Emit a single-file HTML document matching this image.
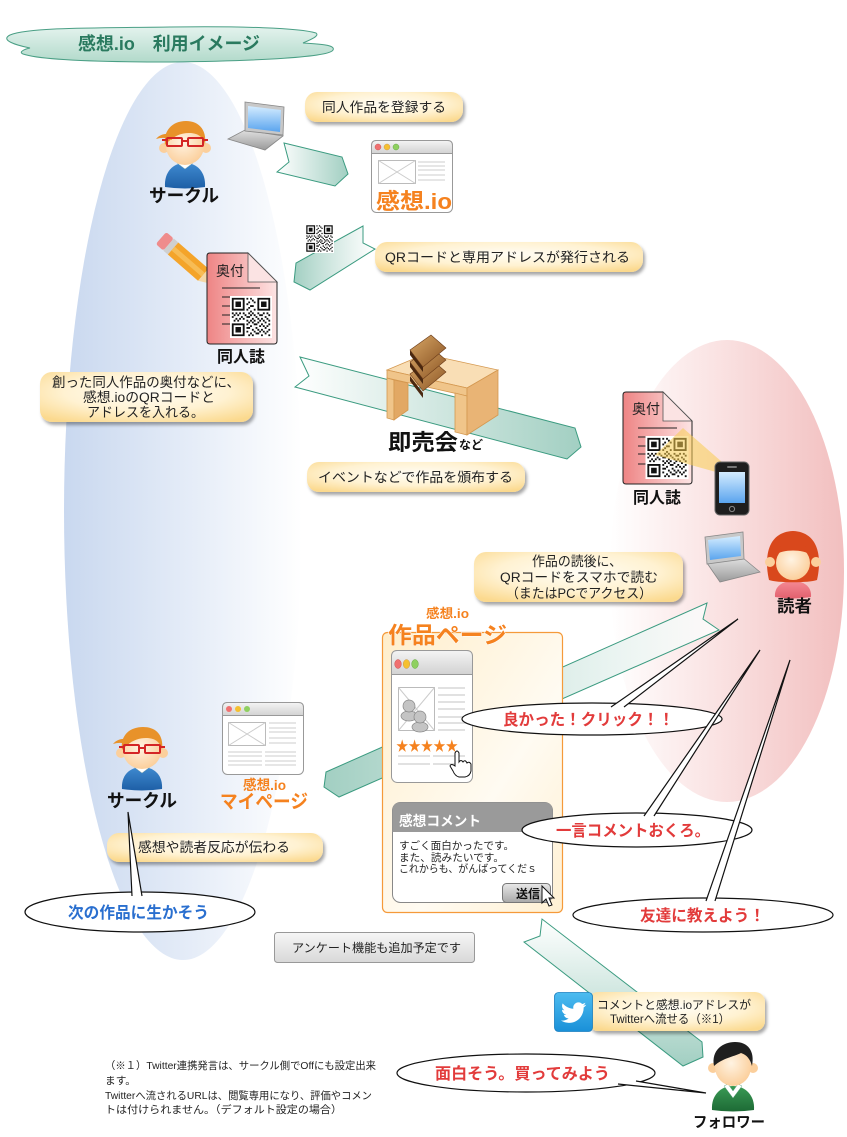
<!DOCTYPE html>
<html><head><meta charset="utf-8"><style>
html,body{margin:0;padding:0;background:#fff;}
svg{display:block;}
.s{font-family:"Liberation Sans","Noto Sans CJK JP",sans-serif;}
</style></head><body>
<svg width="847" height="1137" viewBox="0 0 847 1137" xmlns="http://www.w3.org/2000/svg" class="s">
<defs>
<linearGradient id="gBlue" x1="0" y1="0" x2="1" y2="0"><stop offset="0" stop-color="#c9d8ef"/><stop offset="0.55" stop-color="#e6edf8"/><stop offset="1" stop-color="#ffffff"/></linearGradient>
<linearGradient id="gPink" x1="0" y1="0" x2="1" y2="0"><stop offset="0" stop-color="#ffffff"/><stop offset="0.45" stop-color="#fae3e3"/><stop offset="1" stop-color="#f2bfbf"/></linearGradient>
<linearGradient id="gCloud" x1="0" y1="0" x2="0" y2="1"><stop offset="0" stop-color="#e4f3ee"/><stop offset="1" stop-color="#b2dacb"/></linearGradient>
<radialGradient id="gLab" cx="50%" cy="40%" r="70%"><stop offset="0" stop-color="#fffdf5"/><stop offset="0.55" stop-color="#fff2d2"/><stop offset="1" stop-color="#fbd98e"/></radialGradient>
<linearGradient id="gR" x1="0" y1="0" x2="1" y2="0"><stop offset="0" stop-color="#ffffff"/><stop offset="1" stop-color="#a2cfc2"/></linearGradient>
<linearGradient id="gL" x1="0" y1="0" x2="1" y2="0"><stop offset="0" stop-color="#a2cfc2"/><stop offset="1" stop-color="#ffffff" stop-opacity="0.8"/></linearGradient>
<linearGradient id="gD" x1="0" y1="0" x2="0" y2="1"><stop offset="0" stop-color="#ffffff"/><stop offset="1" stop-color="#a2cfc2"/></linearGradient>
<linearGradient id="gBar" x1="0" y1="0" x2="0" y2="1"><stop offset="0" stop-color="#f4f4f4"/><stop offset="1" stop-color="#d2d2d2"/></linearGradient>
<linearGradient id="gBtn" x1="0" y1="0" x2="0" y2="1"><stop offset="0" stop-color="#e8e8e8"/><stop offset="1" stop-color="#a8a8a8"/></linearGradient>
<linearGradient id="gGray" x1="0" y1="0" x2="0" y2="1"><stop offset="0" stop-color="#f6f6f6"/><stop offset="1" stop-color="#d8d8d8"/></linearGradient>
<linearGradient id="gScr" x1="0" y1="0" x2="0" y2="1"><stop offset="0" stop-color="#d4ecff"/><stop offset="1" stop-color="#5aa4ee"/></linearGradient>
<linearGradient id="gLap" x1="0" y1="0" x2="0" y2="1"><stop offset="0" stop-color="#e0e0e0"/><stop offset="1" stop-color="#9a9a9a"/></linearGradient>
<linearGradient id="gDoc" x1="0" y1="0" x2="1" y2="0"><stop offset="0" stop-color="#ee8484"/><stop offset="1" stop-color="#fde4e4"/></linearGradient>
<linearGradient id="gWork" x1="0" y1="0" x2="1" y2="1"><stop offset="0" stop-color="#ffeecb"/><stop offset="0.6" stop-color="#fffbf2"/><stop offset="1" stop-color="#fff0d2"/></linearGradient>
<linearGradient id="gBook" x1="0" y1="0" x2="1" y2="1"><stop offset="0" stop-color="#d9a867"/><stop offset="1" stop-color="#8a5424"/></linearGradient>
<linearGradient id="gTw" x1="0" y1="0" x2="0" y2="1"><stop offset="0" stop-color="#4dbcf0"/><stop offset="1" stop-color="#1a90d8"/></linearGradient>
<radialGradient id="gFace" cx="45%" cy="40%" r="60%"><stop offset="0" stop-color="#fff3e2"/><stop offset="1" stop-color="#fbcf9c"/></radialGradient>
<linearGradient id="gBlueShirt" x1="0" y1="0" x2="0" y2="1"><stop offset="0" stop-color="#3f8ad0"/><stop offset="1" stop-color="#1e5fa6"/></linearGradient>
<linearGradient id="gPinkShirt" x1="0" y1="0" x2="0" y2="1"><stop offset="0" stop-color="#f58a94"/><stop offset="1" stop-color="#e2606e"/></linearGradient>
<linearGradient id="gGreenShirt" x1="0" y1="0" x2="0" y2="1"><stop offset="0" stop-color="#3a9a55"/><stop offset="1" stop-color="#1d6a35"/></linearGradient>
<filter id="sh" x="-10%" y="-20%" width="130%" height="170%"><feDropShadow dx="2" dy="3" stdDeviation="1.5" flood-color="#000" flood-opacity="0.35"/></filter>
<symbol id="qr" viewBox="-1 -1 23 23"><rect x="-1" y="-1" width="23" height="23" fill="#fff"/><path fill-rule="evenodd" fill="#111" d="M0 0h7v7H0z M1 1v5h5V1z M2 2h3v3H2z M14 0h7v7h-7z M15 1v5h5V1z M16 2h3v3h-3z M0 14h7v7H0z M1 15v5h5v-5z M2 16h3v3H2z M8 0h1v1h-1z M10 0h1v1h-1z M11 1h1v1h-1z M9 2h1v1h-1z M12 2h1v1h-1z M8 3h1v1h-1z M10 4h2v1h-2z M9 5h1v1h-1z M8 6h1v1h-1z M12 6h1v1h-1z M10 7h1v1h-1z M0 8h1v1h-1z M2 8h1v1h-1z M4 8h1v1h-1z M6 8h1v1h-1z M9 8h1v1h-1z M11 8h1v1h-1z M14 8h1v1h-1z M17 8h1v1h-1z M19 8h1v1h-1z M1 9h1v1h-1z M3 9h1v1h-1z M7 9h1v1h-1z M10 9h1v1h-1z M12 9h1v1h-1z M15 9h2v1h-2z M20 9h1v1h-1z M0 10h1v1h-1z M5 10h1v1h-1z M8 10h2v1h-2z M13 10h1v1h-1z M18 10h1v1h-1z M2 11h1v1h-1z M4 11h1v1h-1z M6 11h1v1h-1z M11 11h1v1h-1z M14 11h1v1h-1z M16 11h1v1h-1z M19 11h1v1h-1z M1 12h1v1h-1z M3 12h1v1h-1z M8 12h1v1h-1z M10 12h1v1h-1z M12 12h1v1h-1z M15 12h1v1h-1z M17 12h1v1h-1z M20 12h1v1h-1z M9 13h1v1h-1z M11 13h1v1h-1z M14 13h1v1h-1z M18 13h1v1h-1z M8 14h1v1h-1z M12 14h2v1h-2z M16 14h1v1h-1z M20 14h1v1h-1z M10 15h1v1h-1z M15 15h1v1h-1z M17 15h1v1h-1z M19 15h1v1h-1z M8 16h2v1h-2z M13 16h1v1h-1z M18 16h1v1h-1z M11 17h1v1h-1z M14 17h1v1h-1z M16 17h1v1h-1z M20 17h1v1h-1z M8 18h1v1h-1z M12 18h1v1h-1z M15 18h1v1h-1z M17 18h1v1h-1z M19 18h1v1h-1z M10 19h1v1h-1z M13 19h2v1h-2z M18 19h1v1h-1z M9 20h1v1h-1z M11 20h1v1h-1z M16 20h1v1h-1z M20 20h1v1h-1z"/></symbol>
</defs>

<rect width="847" height="1137" fill="#fff"/>

<!-- background ellipses -->
<ellipse cx="183" cy="511" rx="119" ry="449" fill="url(#gBlue)"/>
<ellipse cx="727" cy="571" rx="117" ry="231" fill="url(#gPink)"/>

<!-- title cloud -->
<path d="M10,35 C30,27 100,28 170,27 C240,26 300,28 316,33 C320,36 310,40 303,43 C320,44 336,45 333,50 C330,57 260,61 170,62 C100,62 40,60 23,54 C18,52 25,49 30,48 C15,45 0,40 10,35 Z" fill="url(#gCloud)" stroke="#4a9f85" stroke-width="1"/>
<text x="78" y="50" font-size="18" font-weight="bold" fill="#2a7a5f" textLength="182" lengthAdjust="spacingAndGlyphs">感想.io　利用イメージ</text>

<!-- arrows -->
<polygon points="284,143 342,157 348,174 335,186 277,172 289,162" fill="url(#gR)" stroke="#3b9b80" stroke-width="1"/>
<polygon points="363,226 363,243 375,249 310,290 294,282 296,263" fill="url(#gL)" stroke="#3b9b80" stroke-width="1"/>
<polygon points="300,357 575,428 581,447 567,459 295,387 309,376" fill="url(#gR)" stroke="#3b9b80" stroke-width="1"/>
<polygon points="707,603 703,619 719,630 339,797 324,787 326,772" fill="url(#gL)" stroke="#3b9b80" stroke-width="1"/>
<polygon points="542,919 540,936 524,942 683,1066 703,1057 702,1042" fill="url(#gD)" stroke="#3b9b80" stroke-width="1"/>

<!-- labels -->
<g filter="url(#sh)">
<rect x="305" y="92" width="158" height="30" rx="12" fill="url(#gLab)"/>
<rect x="375" y="242" width="268" height="30" rx="12" fill="url(#gLab)"/>
<rect x="40" y="372" width="213" height="50" rx="12" fill="url(#gLab)"/>
<rect x="307" y="462" width="218" height="30" rx="12" fill="url(#gLab)"/>
<rect x="474" y="552" width="209" height="50" rx="12" fill="url(#gLab)"/>
<rect x="107" y="833" width="216" height="29" rx="12" fill="url(#gLab)"/>
<rect x="588" y="992" width="177" height="39" rx="10" fill="url(#gLab)"/>
</g>
<g font-size="13.5" fill="#222">
<text x="322" y="112" textLength="124" lengthAdjust="spacingAndGlyphs">同人作品を登録する</text>
<text x="385" y="262" textLength="245" lengthAdjust="spacingAndGlyphs">QRコードと専用アドレスが発行される</text>
<text x="52" y="387" textLength="188" lengthAdjust="spacingAndGlyphs">創った同人作品の奥付などに、</text>
<text x="83" y="402" textLength="132" lengthAdjust="spacingAndGlyphs">感想.ioのQRコードと</text>
<text x="87" y="417" textLength="117" lengthAdjust="spacingAndGlyphs">アドレスを入れる。</text>
<text x="318" y="482" textLength="195" lengthAdjust="spacingAndGlyphs">イベントなどで作品を頒布する</text>
<text x="532" y="566" textLength="90" lengthAdjust="spacingAndGlyphs">作品の読後に、</text>
<text x="500" y="582" textLength="158" lengthAdjust="spacingAndGlyphs">QRコードをスマホで読む</text>
<text x="506" y="598" textLength="146" lengthAdjust="spacingAndGlyphs">（またはPCでアクセス）</text>
<text x="138" y="852" textLength="152" lengthAdjust="spacingAndGlyphs">感想や読者反応が伝わる</text>
</g>

<!-- person 1 (circle top) -->
<g transform="translate(185,146)">
<path d="M-20,41 C-21,26 -12,17 0,17 C12,17 21,26 20,41 Q0,44 -20,41 Z" fill="url(#gBlueShirt)"/>
<path d="M-8,17 L0,23 L8,17 L4,15 L0,18 L-4,15 Z" fill="#fff" stroke="#8aa" stroke-width=".5"/>
<circle cx="-21" cy="2" r="5" fill="#fbcf9c"/><circle cx="21" cy="2" r="5" fill="#fbcf9c"/>
<ellipse cx="0" cy="0" rx="19" ry="19" fill="url(#gFace)"/>
<path d="M-20,-1 C-22,-16 -12,-25 1,-25 C14,-25 22,-16 20,-1 C18,-10 12,-13 4,-13 C-4,-13 -12,-10 -20,-1 Z" fill="#e8922a"/>
<path d="M-14,-12 C-20,-13 -26,-11 -29,-7 C-22,-9 -18,-8 -13,-6 Z" fill="#e8922a"/>
<g stroke="#d42525" stroke-width="2" fill="none"><rect x="-18" y="-8" width="15" height="8" rx="1"/><rect x="3" y="-8" width="15" height="8" rx="1"/><path d="M-3,-5 H3 M-18,-6 H-23 M18,-6 H23"/></g>
</g>
<text x="149" y="202" font-size="18" font-weight="bold" fill="#111" textLength="70" lengthAdjust="spacingAndGlyphs">サークル</text>

<!-- laptop 1 -->
<polygon points="228,139 245,130 283,136 265,150" fill="url(#gLap)" stroke="#888" stroke-width=".8"/>
<polygon points="245,102 284,107 283,135 245,131" fill="#c8c8c8" stroke="#888" stroke-width=".8"/>
<polygon points="248,106 281,110 280,132 248,128" fill="url(#gScr)"/>

<!-- browser 1 -->
<rect x="371.5" y="140.5" width="81" height="72" rx="5" fill="#fff" stroke="#999"/>
<path d="M376.5,140.5 H447.5 Q452.5,140.5 452.5,145.5 V153.5 H371.5 V145.5 Q371.5,140.5 376.5,140.5Z" fill="url(#gBar)" stroke="#999"/>
<circle cx="378" cy="147" r="3" fill="#f07070" stroke="#c55" stroke-width=".5"/><circle cx="387" cy="147" r="3" fill="#f5c030" stroke="#c95" stroke-width=".5"/><circle cx="396" cy="147" r="3" fill="#8fd060" stroke="#6a4" stroke-width=".5"/>
<rect x="378.5" y="160.5" width="37" height="23" fill="#fff" stroke="#bbb"/><path d="M378.5,160.5 L415.5,183.5 M415.5,160.5 L378.5,183.5" stroke="#ccc"/>
<path d="M418,162 H445 M418,166 H445 M418,170 H445 M418,175 H445 M418,180 H445" stroke="#ddd" stroke-width="1.6"/>
<text x="376" y="209" font-size="22" font-weight="bold" fill="#f5821f" stroke="#fff" stroke-width="1.2" paint-order="stroke" textLength="76" lengthAdjust="spacingAndGlyphs">感想.io</text>

<!-- small QR -->
<use href="#qr" x="305" y="224" width="29" height="29"/>

<!-- pencil -->
<g transform="translate(161,238) rotate(41)">
<rect x="0" y="-8" width="10" height="16" rx="2.5" fill="#ef8c8c"/>
<rect x="10" y="-8" width="6" height="16" fill="#cfcfcf"/>
<rect x="16" y="-8" width="40" height="16" fill="#f4a42a"/>
<rect x="16" y="-2.5" width="40" height="5" fill="#f7bc55"/>
<polygon points="56,-8 71,0 56,8" fill="#f5d7a6"/>
<polygon points="66,-2.6 71,0 66,2.6" fill="#6b3a1a"/>
</g>

<!-- left doc -->
<path d="M210,253 H248 L277,282 V341 Q277,344 274,344 H210 Q207,344 207,341 V256 Q207,253 210,253 Z" fill="url(#gDoc)" stroke="#222" stroke-width="1"/>
<polygon points="248,253 248,282 277,282" fill="#fbe3e3" stroke="#555" stroke-width=".8"/>
<text x="216" y="276" font-size="14" fill="#222">奥付</text>
<path d="M222,288 H260 M222,297 H230 M222,306 H230 M222,315 H230 M222,324 H230" stroke="#222" stroke-width="1"/>
<use href="#qr" x="229" y="296" width="44" height="42"/>
<text x="217" y="362" font-size="16" font-weight="bold" fill="#111" textLength="48" lengthAdjust="spacingAndGlyphs">同人誌</text>

<!-- desk -->
<g stroke="#d49850" stroke-width=".8">
<polygon points="387,370 425,354 498,370 467,388" fill="#f9deb5"/>
<polygon points="387,370 467,388 467,396 387,378" fill="#f0c58a"/>
<polygon points="387,378 394,380 394,420 387,418" fill="#f0c58a"/>
<polygon points="394,380 408,383 408,410 394,420" fill="#e2a864"/>
<polygon points="455,393 467,396 467,435 455,432" fill="#f0c58a"/>
<polygon points="467,388 498,370 498,415 467,435" fill="#e9b475"/>
</g>
<g>
<polygon points="410,376 423,393 423,398 410,381" fill="#4a2810"/>
<polygon points="410,374 431,359 446,372 423,391" fill="url(#gBook)" stroke="#6a3a18" stroke-width=".6"/>
<polygon points="410,362 423,379 423,384 410,367" fill="#4a2810"/>
<polygon points="410,362 431,347 446,360 423,379" fill="url(#gBook)" stroke="#6a3a18" stroke-width=".6"/>
<polygon points="410,350 423,367 423,372 410,355" fill="#4a2810"/>
<polygon points="410,350 431,335 446,348 423,367" fill="url(#gBook)" stroke="#6a3a18" stroke-width=".6"/>
</g>
<text x="388" y="450" font-size="22" font-weight="bold" fill="#111" textLength="70" lengthAdjust="spacingAndGlyphs">即売会</text>
<text x="459" y="449" font-size="12" font-weight="bold" fill="#111">など</text>

<!-- right doc -->
<path d="M626,392 H663 L692,421 V481 Q692,484 689,484 H626 Q623,484 623,481 V395 Q623,392 626,392 Z" fill="url(#gDoc)" stroke="#222" stroke-width="1"/>
<polygon points="663,392 663,421 692,421" fill="#fbe3e3" stroke="#555" stroke-width=".8"/>
<text x="632" y="414" font-size="14" fill="#222">奥付</text>
<path d="M638,428 H677 M638,437 H646 M638,446 H646 M638,454 H646 M638,464 H646" stroke="#222" stroke-width="1"/>
<use href="#qr" x="645" y="436" width="44" height="43"/>
<polygon points="655,455 683,428 722,462 716,472" fill="#f8cc50" opacity="0.55"/>
<text x="633" y="503" font-size="16" font-weight="bold" fill="#111" textLength="48" lengthAdjust="spacingAndGlyphs">同人誌</text>

<!-- phone -->
<rect x="715" y="462" width="34" height="53" rx="5" fill="#1e1e1e" stroke="#666"/>
<rect x="719" y="472" width="26" height="31" fill="url(#gScr)"/>
<rect x="727" y="466" width="10" height="2" rx="1" fill="#777"/>
<circle cx="732" cy="509" r="2.6" fill="none" stroke="#888"/>

<!-- laptop 2 -->
<polygon points="707,563 743,558 760,572 720,582" fill="url(#gLap)" stroke="#888" stroke-width=".8"/>
<polygon points="705,537 743,532 744,559 707,564" fill="#c8c8c8" stroke="#888" stroke-width=".8"/>
<polygon points="708,540 740,536 741,556 710,560" fill="url(#gScr)"/>

<!-- reader -->
<g transform="translate(793,558)">
<path d="M-18,39 C-19,28 -10,23 0,23 C10,23 19,28 18,39 Q0,42 -18,39Z" fill="url(#gPinkShirt)"/>
<path d="M-24,22 C-29,0 -26,-26 0,-27 C26,-26 29,0 24,22 C16,25 -16,25 -24,22 Z" fill="#d9481c"/>
<circle cx="-23" cy="4" r="5" fill="#fbcf9c"/><circle cx="23" cy="4" r="5" fill="#fbcf9c"/>
<ellipse cx="0" cy="5" rx="17" ry="17" fill="url(#gFace)"/>
<path d="M-18,-3 C-16,-19 16,-19 18,-3 C10,-9 -10,-9 -18,-3Z" fill="#d9481c"/>
</g>
<text x="777" y="612" font-size="17" font-weight="bold" fill="#111" textLength="35" lengthAdjust="spacingAndGlyphs">読者</text>

<!-- mypage browser -->
<rect x="222.5" y="702.5" width="81" height="72" rx="5" fill="#fff" stroke="#999"/>
<path d="M227.5,702.5 H298.5 Q303.5,702.5 303.5,707.5 V715.5 H222.5 V707.5 Q222.5,702.5 227.5,702.5Z" fill="url(#gBar)" stroke="#999"/>
<circle cx="229" cy="709" r="3" fill="#f07070"/><circle cx="238" cy="709" r="3" fill="#f5c030"/><circle cx="247" cy="709" r="3" fill="#8fd060"/>
<rect x="228.5" y="722.5" width="37" height="23" fill="#fff" stroke="#bbb"/><path d="M228.5,722.5 L265.5,745.5 M265.5,722.5 L228.5,745.5" stroke="#ccc"/>
<path d="M269,723 H296 M269,728 H296 M269,732 H296 M269,738 H296 M269,743 H296 M228,752 H262 M265,752 H296 M228,756 H262 M265,756 H296 M228,761 H262 M265,761 H296 M228,765 H262 M265,765 H296" stroke="#ddd" stroke-width="1.6"/>
<text x="243" y="790" font-size="14" font-weight="bold" fill="#f5821f" textLength="43" lengthAdjust="spacingAndGlyphs">感想.io</text>
<text x="220" y="808" font-size="19" font-weight="bold" fill="#f5821f" textLength="88" lengthAdjust="spacingAndGlyphs">マイページ</text>

<!-- person 2 -->
<g transform="translate(142,751)">
<path d="M-20,38 C-21,24 -12,16 0,16 C12,16 21,24 20,38 Q0,41 -20,38 Z" fill="url(#gBlueShirt)"/>
<path d="M-8,16 L0,22 L8,16 L4,14 L0,17 L-4,14 Z" fill="#fff" stroke="#8aa" stroke-width=".5"/>
<circle cx="-21" cy="2" r="5" fill="#fbcf9c"/><circle cx="21" cy="2" r="5" fill="#fbcf9c"/>
<ellipse cx="0" cy="0" rx="19" ry="18" fill="url(#gFace)"/>
<path d="M-20,-1 C-22,-16 -12,-24 1,-24 C14,-24 22,-16 20,-1 C18,-10 12,-13 4,-13 C-4,-13 -12,-10 -20,-1 Z" fill="#e8922a"/>
<path d="M-14,-12 C-20,-13 -26,-11 -29,-7 C-22,-9 -18,-8 -13,-6 Z" fill="#e8922a"/>
<g stroke="#d42525" stroke-width="2" fill="none"><rect x="-18" y="-6" width="15" height="8" rx="1"/><rect x="3" y="-6" width="15" height="8" rx="1"/><path d="M-3,-3 H3 M-18,-4 H-23 M18,-4 H23"/></g>
</g>
<text x="107" y="807" font-size="18" font-weight="bold" fill="#111" textLength="70" lengthAdjust="spacingAndGlyphs">サークル</text>

<!-- 作品ページ box -->
<rect x="382.5" y="632.5" width="180" height="280" rx="5" fill="url(#gWork)" stroke="#f59a3a" stroke-width="1.2"/>
<text x="426" y="618" font-size="13" font-weight="bold" fill="#f5821f" textLength="43" lengthAdjust="spacingAndGlyphs">感想.io</text>
<text x="388" y="643" font-size="23" font-weight="bold" fill="#f5821f" stroke="#fff" stroke-width="1" paint-order="stroke" textLength="119" lengthAdjust="spacingAndGlyphs">作品ページ</text>

<!-- inner browser -->
<rect x="391.5" y="650.5" width="81" height="132" rx="6" fill="#fff" stroke="#999"/>
<path d="M397.5,650.5 H466.5 Q472.5,650.5 472.5,656.5 V674.5 H391.5 V656.5 Q391.5,650.5 397.5,650.5Z" fill="url(#gBar)" stroke="#999"/>
<ellipse cx="398" cy="664" rx="3.3" ry="4.5" fill="#f07070" stroke="#c55" stroke-width=".5"/><ellipse cx="406.5" cy="664" rx="3.3" ry="4.5" fill="#f5c030" stroke="#c95" stroke-width=".5"/><ellipse cx="415" cy="664" rx="3.3" ry="4.5" fill="#8fd060" stroke="#6a4" stroke-width=".5"/>
<rect x="398.5" y="687.5" width="36" height="43" fill="#fff" stroke="#bbb"/><path d="M398.5,687.5 L434.5,730.5 M434.5,687.5 L398.5,730.5" stroke="#ccc"/>
<g fill="#c4c4c4" stroke="#888" stroke-width=".7">
<ellipse cx="409" cy="716" rx="8" ry="5"/><circle cx="409" cy="706" r="6"/>
<ellipse cx="420" cy="727" rx="8" ry="5"/><circle cx="420" cy="717" r="6"/>
</g>
<path d="M438,688 H465 M438,695 H465 M438,702 H465 M438,709 H465 M438,717 H465 M438,723 H465 M438,730 H465 M398,756 H430 M433,756 H465 M398,764 H430 M433,764 H465" stroke="#ddd" stroke-width="1.8"/>
<text x="396" y="751" font-size="14" fill="#f5821f" textLength="62" lengthAdjust="spacingAndGlyphs">★★★★★</text>
<path d="M455,753 Q457,749 459,753 V762 Q461,759 463,762 Q465,759 467,763 Q469,761 471,764 V771 Q470,776 465,777 H459 Q455,776 453,771 L450,766 Q451,763 455,766 Z" fill="#fff" stroke="#111" stroke-width="1"/>

<!-- comment box -->
<rect x="392.5" y="802.5" width="160" height="100" rx="8" fill="#fff" stroke="#888"/>
<path d="M400.5,802.5 H544.5 Q552.5,802.5 552.5,810.5 V832 H392.5 V810.5 Q392.5,802.5 400.5,802.5Z" fill="#9a9a9a"/>
<text x="399" y="826" font-size="14" font-weight="bold" fill="#fff" textLength="82" lengthAdjust="spacingAndGlyphs">感想コメント</text>
<g font-size="10.5" fill="#222">
<text x="399" y="849" textLength="115" lengthAdjust="spacingAndGlyphs">すごく面白かったです。</text>
<text x="399" y="861" textLength="105" lengthAdjust="spacingAndGlyphs">また、読みたいです。</text>
<text x="399" y="872" textLength="138" lengthAdjust="spacingAndGlyphs">これからも、がんばってくだｓ</text>
</g>
<rect x="502.5" y="883.5" width="48" height="19" rx="4" fill="url(#gBtn)" stroke="#777"/>
<text x="516" y="898" font-size="12" font-weight="bold" fill="#111">送信</text>
<polygon points="542,886 542,903 546,899 549,906 552,905 549,898 554,898" fill="#fff" stroke="#111" stroke-width="1"/>

<!-- speech bubbles -->
<g stroke="#111" stroke-width="1.2">
<ellipse cx="140" cy="912" rx="115" ry="20" fill="#fff"/>
<path d="M132,896 L128,812 L142,896" fill="#fff"/>
<ellipse cx="592" cy="719" rx="130" ry="16" fill="#fff"/>
<path d="M611,707 L738,619 L624,707" fill="#fff"/>
<ellipse cx="637" cy="830" rx="115" ry="17" fill="#fff"/>
<path d="M644,816 L760,650 L654,816" fill="#fff"/>
<ellipse cx="703" cy="915" rx="130" ry="17" fill="#fff"/>
<path d="M706,901 L790,660 L715,901" fill="#fff"/>
<ellipse cx="526" cy="1073" rx="129" ry="19" fill="#fff"/>
<path d="M618,1084 L706,1093 L636,1081" fill="#fff"/>
</g>
<g font-size="16" font-weight="bold">
<text x="68" y="918" fill="#2a6fcf" textLength="141" lengthAdjust="spacingAndGlyphs">次の作品に生かそう</text>
<text x="503" y="725" fill="#e23b3b" textLength="171" lengthAdjust="spacingAndGlyphs">良かった！クリック！！</text>
<text x="556" y="836" fill="#e23b3b" textLength="154" lengthAdjust="spacingAndGlyphs">一言コメントおくろ。</text>
<text x="640" y="921" fill="#e23b3b" textLength="125" lengthAdjust="spacingAndGlyphs">友達に教えよう！</text>
<text x="435" y="1079" fill="#e23b3b" textLength="175" lengthAdjust="spacingAndGlyphs">面白そう。買ってみよう</text>
</g>

<!-- gray box -->
<rect x="274.5" y="932.5" width="200" height="30" rx="3" fill="url(#gGray)" stroke="#999"/>
<text x="292" y="952" font-size="12" fill="#222" textLength="169" lengthAdjust="spacingAndGlyphs">アンケート機能も追加予定です</text>

<!-- twitter -->
<rect x="554.5" y="992.5" width="38" height="39" rx="4" fill="url(#gTw)" stroke="#1a7fc0" stroke-width=".8"/>
<path transform="translate(561,1000) scale(1.05)" fill="#fff" d="M23.953 4.57a10 10 0 01-2.825.775 4.958 4.958 0 002.163-2.723c-.951.555-2.005.959-3.127 1.184a4.92 4.92 0 00-8.384 4.482C7.690 8.095 4.067 6.130 1.640 3.162a4.822 4.822 0 00-.666 2.475c0 1.71.87 3.213 2.188 4.096a4.904 4.904 0 01-2.228-.616v.06a4.923 4.923 0 003.946 4.827 4.996 4.996 0 01-2.212.085 4.936 4.936 0 004.604 3.417 9.867 9.867 0 01-6.102 2.105c-.39 0-.779-.023-1.17-.067a13.995 13.995 0 007.557 2.209c9.053 0 13.998-7.496 13.998-13.985 0-.21 0-.42-.015-.63A9.935 9.935 0 0024 4.59z"/>
<text x="597" y="1009" font-size="12" fill="#222" textLength="154" lengthAdjust="spacingAndGlyphs">コメントと感想.ioアドレスが</text>
<text x="610" y="1023" font-size="12" fill="#222" textLength="120" lengthAdjust="spacingAndGlyphs">Twitterへ流せる（※1）</text>

<!-- follower -->
<g transform="translate(733,1066)">
<path d="M-21,44 C-22,29 -12,20 0,20 C12,20 22,29 21,44 Q0,47 -21,44 Z" fill="url(#gGreenShirt)"/>
<path d="M-9,20 L0,32 L9,20 L5,18 L0,25 L-5,18 Z" fill="#fff" stroke="#6a8" stroke-width=".5"/>
<circle cx="-20" cy="2" r="5" fill="#fbcf9c"/><circle cx="20" cy="2" r="5" fill="#fbcf9c"/>
<ellipse cx="0" cy="1" rx="18" ry="19" fill="url(#gFace)"/>
<path d="M-19,0 C-22,-16 -10,-24 2,-24 C15,-24 22,-15 19,0 C17,-7 14,-11 8,-13 C0,-9 -10,-8 -19,0Z" fill="#1f1f1f"/>
</g>
<text x="693" y="1127" font-size="15" font-weight="bold" fill="#111" textLength="72" lengthAdjust="spacingAndGlyphs">フォロワー</text>

<!-- footnote -->
<g font-size="10.5" fill="#222">
<text x="105" y="1069" textLength="271" lengthAdjust="spacingAndGlyphs">（※１）Twitter連携発言は、サークル側でOffにも設定出来</text>
<text x="105" y="1084" textLength="31" lengthAdjust="spacingAndGlyphs">ます。</text>
<text x="105" y="1099" textLength="267" lengthAdjust="spacingAndGlyphs">Twitterへ流されるURLは、閲覧専用になり、評価やコメン</text>
<text x="105" y="1113" textLength="237" lengthAdjust="spacingAndGlyphs">トは付けられません。（デフォルト設定の場合）</text>
</g>
</svg>
</body></html>
